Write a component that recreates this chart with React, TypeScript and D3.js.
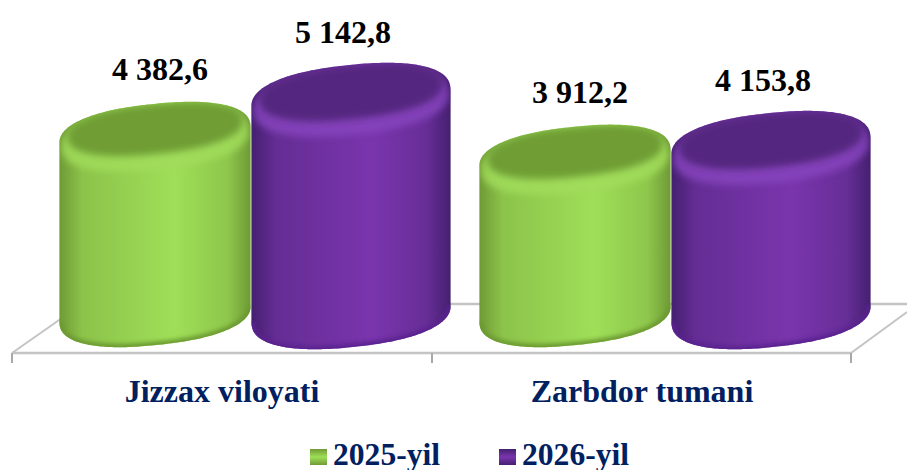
import React from "react";
import * as d3 from "d3";

const categories = ["Jizzax viloyati", "Zarbdor tumani"];
const seriesNames = ["2025-yil", "2026-yil"];
const values2025 = [4382.6, 3912.2];
const values2026 = [5142.8, 4153.8];
const valueLabels2025 = ["4 382,6", "3 912,2"];
const valueLabels2026 = ["5 142,8", "4 153,8"];

const width = 907;
const height = 470;
const serif = "'Liberation Serif', serif";
const navy = "#002060";

const palette = [
  { edge: "#6f9a36", mid: "#9fdf58", top: "#6f9e36", rim: "#a2dd5c", low: "#6c9a30" },
  { edge: "#44206f", mid: "#7a35ad", top: "#54257f", rim: "#8644bd", low: "#5a2190" },
];

const x0 = d3.scaleBand().domain(categories).range([56, 896]);
const x1 = d3.scaleBand().domain(seriesNames).range([0, 392]);
// the axis of the original does not start at zero
const y = d3.scaleLinear().domain([700, 5142.8]).range([314, 98]);

const tilt = (-6 * Math.PI) / 180;
const squareness = 0.86; // <1 gives the fuller, bevelled outline of the 3D shape
const line = d3.line();

// closed outline of the tilted face, clockwise from the right
function faceOutline(cx: number, cy: number, rx: number, ry: number): [number, number][] {
  return d3.range(0, 240).map((i) => {
    const t = (i / 240) * 2 * Math.PI;
    const ux = rx * Math.sign(Math.cos(t)) * Math.abs(Math.cos(t)) ** squareness;
    const uy = ry * Math.sign(Math.sin(t)) * Math.abs(Math.sin(t)) ** squareness;
    return [
      cx + ux * Math.cos(tilt) - uy * Math.sin(tilt),
      cy + ux * Math.sin(tilt) + uy * Math.cos(tilt),
    ];
  });
}

// the part of the outline below its two side tangents
function lowerArc(cx: number, cy: number, rx: number, ry: number) {
  const pts = faceOutline(cx, cy, rx, ry);
  const right = d3.greatestIndex(pts, (p) => p[0]);
  const left = d3.leastIndex(pts, (p) => p[0]);
  const rolled = [...pts.slice(right), ...pts.slice(0, right)];
  return rolled.slice(0, ((left - right + 240) % 240) + 1);
}

function bodyPath(cx: number, top: number, base: number, rx: number, ry: number) {
  const lower = lowerArc(cx, base, rx, ry);
  const upper = lowerArc(cx, top, rx, ry).map(
    ([px, py]) => [2 * cx - px, 2 * top - py] as [number, number]
  );
  return line([...lower, ...upper]) + "Z";
}

function Cylinder({ id, cx, value, rx, ry, s }: any) {
  const top = y(value);
  const base = y.range()[0];
  const c = palette[s];
  const body = bodyPath(cx, top, base, rx, ry);
  return (
    <g>
      <clipPath id={`clip-${id}`}>
        <path d={body} />
      </clipPath>
      <path d={body} fill={`url(#side-${s})`} />
      <g clipPath={`url(#clip-${id})`}>
        <path
          d={line(lowerArc(cx, base, rx, ry))!}
          fill="none"
          stroke={c.low}
          strokeWidth={7}
          filter="url(#blur2)"
        />
        <path
          d={line(faceOutline(cx, top + 4, rx - 2, ry))! + "Z"}
          fill={c.rim}
          filter="url(#blur3)"
          opacity={0.85}
        />
        <path
          d={line(faceOutline(cx, top - 6, rx - 8, ry - 6))! + "Z"}
          fill={c.top}
          filter="url(#blur3)"
        />
      </g>
    </g>
  );
}

export default function App() {
  const floorFront = 353;
  const floorBack = 304;
  const cylinders = categories.flatMap((cat, i) =>
    seriesNames.map((name, s) => ({
      id: `${i}-${s}`,
      s,
      cx: x0(cat)! + x1(name)! + x1.bandwidth() / 2 + 1,
      value: (s === 0 ? values2025 : values2026)[i],
      label: (s === 0 ? valueLabels2025 : valueLabels2026)[i],
      rx: s === 0 ? 96 : 100,
      ry: s === 0 ? 31 : 33,
    }))
  );
  const ticks = [12, 432, 851];

  return (
    <svg
      width={width}
      height={height}
      style={{ position: "absolute", left: 0, top: 0, background: "#fff" }}
    >
      <defs>
        {palette.map((c, s) => (
          <linearGradient key={s} id={`side-${s}`} x1="0" x2="1" y1="0" y2="0">
            <stop offset="0" stopColor={c.edge} />
            <stop offset="0.12" stopColor={d3.interpolateRgb(c.edge, c.mid)(0.6)} />
            <stop offset="0.6" stopColor={c.mid} />
            <stop offset="0.88" stopColor={d3.interpolateRgb(c.edge, c.mid)(0.65)} />
            <stop offset="1" stopColor={c.edge} />
          </linearGradient>
        ))}
        {palette.map((c, s) => (
          <linearGradient key={s} id={`swatch-${s}`} x1="0" x2="0" y1="0" y2="1">
            <stop offset="0" stopColor={c.edge} />
            <stop offset="0.5" stopColor={c.mid} />
            <stop offset="1" stopColor={c.edge} />
          </linearGradient>
        ))}
        <filter id="blur2" x="-20%" y="-50%" width="140%" height="200%">
          <feGaussianBlur stdDeviation="2" />
        </filter>
        <filter id="blur3" x="-20%" y="-50%" width="140%" height="200%">
          <feGaussianBlur stdDeviation="3.5" />
        </filter>
      </defs>

      <g fill="none" stroke="#c4c4c4" strokeWidth={2}>
        <path d={`M12,${floorFront}L62,${floorFront - 35}`} />
        <path d={`M851,${floorFront}L907,${floorFront - 41}`} />
        <path d={`M12,${floorFront}L851,${floorFront}`} strokeWidth={2.5} />
        <path d={`M440,${floorBack}L907,${floorBack}`} strokeWidth={2.5} />
        {ticks.map((t) => (
          <path key={t} d={`M${t},${floorFront}V${floorFront + 10}`} stroke="#a8a8a8" />
        ))}
      </g>

      {cylinders.map((c) => (
        <Cylinder key={c.id} {...c} />
      ))}

      {cylinders.map((c) => (
        <text
          key={c.id}
          x={c.cx + (c.s === 0 ? 5 : -8)}
          y={y(c.value) - 55}
          textAnchor="middle"
          fontFamily={serif}
          fontWeight="bold"
          fontSize={32}
          fill="#000"
        >
          {c.label}
        </text>
      ))}

      {categories.map((cat) => (
        <text
          key={cat}
          x={x0(cat)! + x0.bandwidth() / 2 - 44}
          y={402}
          textAnchor="middle"
          fontFamily={serif}
          fontWeight="bold"
          fontSize={32}
          fill={navy}
        >
          {cat}
        </text>
      ))}

      {seriesNames.map((name, s) => (
        <g key={name} transform={`translate(${310 + s * 189},449)`}>
          <rect width={17} height={16} fill={`url(#swatch-${s})`} />
          <text x={23} y={16} fontFamily={serif} fontWeight="bold" fontSize={31.6} fill={navy}>
            {name}
          </text>
        </g>
      ))}
    </svg>
  );
}
